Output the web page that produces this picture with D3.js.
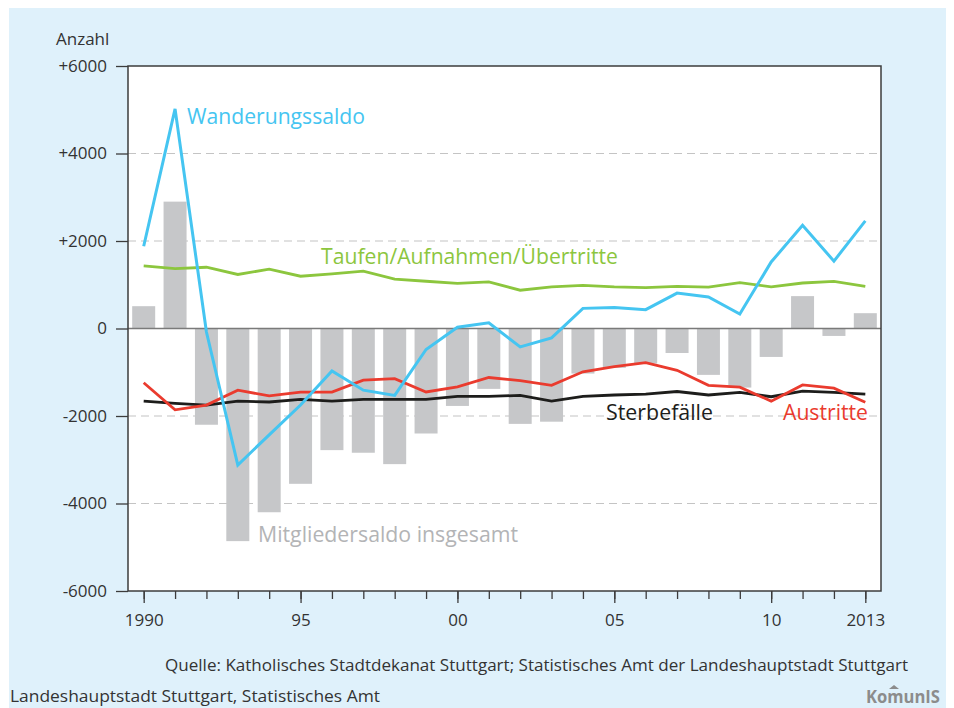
<!DOCTYPE html>
<html>
<head>
<meta charset="utf-8">
<script src="https://cdn.jsdelivr.net/npm/d3@7"></script>
<style>
  body { margin: 0; background: #fff; }
  svg text { font-family: "Open Sans", "Noto Sans", sans-serif; }
</style>
</head>
<body>
<div id="chart"></div>
<script>
"use strict";

var years = d3.range(1990, 2014);
var majorYears = [1990, 1995, 2000, 2005, 2010, 2013];
var majorLabels = ["1990", "95", "00", "05", "10", "2013"];
var yTicks = [6000, 4000, 2000, 0, -2000, -4000, -6000];
var yLabels = ["+6000", "+4000", "+2000", "0", "-2000", "-4000", "-6000"];

// Mitgliedersaldo insgesamt (bars)
var mitglieder = [510, 2900, -2200, -4860, -4200, -3550, -2780, -2840, -3100, -2400,
                  -1770, -1380, -2180, -2130, -1030, -900, -800, -560, -1060, -1350,
                  -650, 740, -170, 350];
var wanderung = [1880, 5020, -80, -3120, -2430, -1750, -970, -1410, -1530, -480,
                 30, 130, -420, -215, 460, 480, 430, 810, 720, 330,
                 1520, 2360, 1540, 2460];
var taufen = [1430, 1370, 1400, 1235, 1355, 1195, 1250, 1310, 1130, 1080,
              1030, 1065, 875, 950, 985, 950, 935, 965, 945, 1050,
              950, 1040, 1075, 965];
var sterbe = [-1660, -1710, -1750, -1660, -1680, -1620, -1660, -1620, -1620, -1620,
              -1550, -1550, -1530, -1660, -1550, -1520, -1500, -1440, -1520, -1460,
              -1560, -1430, -1460, -1500];
var austritte = [-1240, -1860, -1750, -1410, -1540, -1455, -1455, -1180, -1145, -1450,
                 -1335, -1120, -1190, -1300, -990, -870, -780, -955, -1300, -1340,
                 -1660, -1290, -1365, -1685];

var W = 954, H = 708;
var pL = 128, pR = 881, pT = 66, pB = 591;

var svg = d3.select("#chart").append("svg")
    .attr("width", W).attr("height", H);

svg.append("rect").attr("x", 9).attr("y", 8).attr("width", 937).attr("height", 700)
    .attr("fill", "#dff1fb");
svg.append("rect").attr("x", pL).attr("y", pT)
    .attr("width", pR - pL).attr("height", pB - pT)
    .attr("fill", "#fff");

var x = d3.scaleLinear().domain([1989.5, 2013.5]).range([pL, pR]);
var y = d3.scaleLinear().domain([-6000, 6000]).range([pB, pT]);

// dashed grid
svg.append("g")
    .selectAll("line")
    .data([4000, 2000, -2000, -4000])
    .enter().append("line")
    .attr("x1", pL).attr("x2", pR)
    .attr("y1", d => y(d)).attr("y2", d => y(d))
    .attr("stroke", "#c4c4c4").attr("stroke-width", 1.2)
    .attr("stroke-dasharray", "8,5");

// bars
svg.append("g").selectAll("rect")
    .data(mitglieder)
    .enter().append("rect")
    .attr("x", (d, i) => x(years[i]) - 11.5)
    .attr("width", 23)
    .attr("y", d => d >= 0 ? y(d) : y(0))
    .attr("height", d => Math.abs(y(d) - y(0)))
    .attr("fill", "#c6c7c9");

// zero line
svg.append("line")
    .attr("x1", pL).attr("x2", pR)
    .attr("y1", y(0)).attr("y2", y(0))
    .attr("stroke", "#7a7a7a").attr("stroke-width", 1.5);

var line = d3.line().x((d, i) => x(years[i])).y(d => y(d));

function drawLine(data, color, w) {
    svg.append("path")
        .datum(data)
        .attr("d", line)
        .attr("fill", "none")
        .attr("stroke", color)
        .attr("stroke-width", w)
        .attr("stroke-linejoin", "miter");
}
drawLine(taufen, "#8cc63e", 2.8);
drawLine(sterbe, "#1d1d1b", 2.8);
drawLine(austritte, "#ea3b2e", 2.8);
drawLine(wanderung, "#45c5f1", 3);

// frame
svg.append("rect").attr("x", pL).attr("y", pT)
    .attr("width", pR - pL).attr("height", pB - pT)
    .attr("fill", "none").attr("stroke", "#3c3c3c").attr("stroke-width", 1.5);

// y axis
var yAxis = svg.append("g")
    .attr("transform", "translate(" + pL + ",0)")
    .call(d3.axisLeft(y).tickValues(yTicks).tickSize(12).tickPadding(9)
        .tickFormat((d, i) => yLabels[i]));
yAxis.select(".domain").remove();
yAxis.selectAll(".tick line").attr("stroke", "#3c3c3c").attr("stroke-width", 1.3);
yAxis.selectAll(".tick text")
    .style("font-family", "'Open Sans', sans-serif")
    .style("font-size", "17px").attr("fill", "#333");

// x axis, minor ticks
var xMinor = svg.append("g")
    .attr("transform", "translate(0," + pB + ")")
    .call(d3.axisBottom(x).tickValues(years).tickSize(8).tickFormat(""));
xMinor.select(".domain").remove();
xMinor.selectAll(".tick line").attr("stroke", "#3c3c3c").attr("stroke-width", 1.3);

var xMajor = svg.append("g")
    .attr("transform", "translate(0," + pB + ")")
    .call(d3.axisBottom(x).tickValues(majorYears).tickSize(12).tickPadding(11)
        .tickFormat((d, i) => majorLabels[i]));
xMajor.select(".domain").remove();
xMajor.selectAll(".tick line").attr("stroke", "#3c3c3c").attr("stroke-width", 1.3);
xMajor.selectAll(".tick text")
    .style("font-family", "'Open Sans', sans-serif")
    .style("font-size", "17px").attr("fill", "#333");

svg.append("text").attr("x", 56).attr("y", 45)
    .attr("font-size", 17).attr("fill", "#333").text("Anzahl");

// series labels
function label(txt, lx, ly, color, len) {
    svg.append("text").attr("x", lx).attr("y", ly)
        .attr("font-size", 21).attr("fill", color)
        .attr("textLength", len).attr("lengthAdjust", "spacingAndGlyphs")
        .text(txt);
}
label("Wanderungssaldo", 187, 124, "#45c5f1", 178);
label("Taufen/Aufnahmen/Übertritte", 321, 264, "#8cc63e", 297);
label("Mitgliedersaldo insgesamt", 258, 542, "#b3b4b6", 260);
label("Sterbefälle", 606, 420, "#1d1d1b", 107);
label("Austritte", 783, 420, "#ea3b2e", 85);

// footer
svg.append("text").attr("x", 908).attr("y", 671)
    .attr("text-anchor", "end").attr("font-size", 16).attr("fill", "#333")
    .attr("textLength", 743).attr("lengthAdjust", "spacingAndGlyphs")
    .text("Quelle: Katholisches Stadtdekanat Stuttgart; Statistisches Amt der Landeshauptstadt Stuttgart");
svg.append("text").attr("x", 10).attr("y", 702)
    .attr("font-size", 16).attr("fill", "#333")
    .attr("textLength", 370).attr("lengthAdjust", "spacingAndGlyphs")
    .text("Landeshauptstadt Stuttgart, Statistisches Amt");

svg.append("text").attr("x", 866).attr("y", 703)
    .attr("font-size", 18).attr("font-weight", "bold").attr("fill", "#8c8c8c")
    .attr("textLength", 74).attr("lengthAdjust", "spacingAndGlyphs")
    .text("KomunIS");
svg.append("path")
    .attr("d", "M889,689 L894,685 L899,689 Z")
    .attr("fill", "#8c8c8c");
</script>
</body>
</html>
